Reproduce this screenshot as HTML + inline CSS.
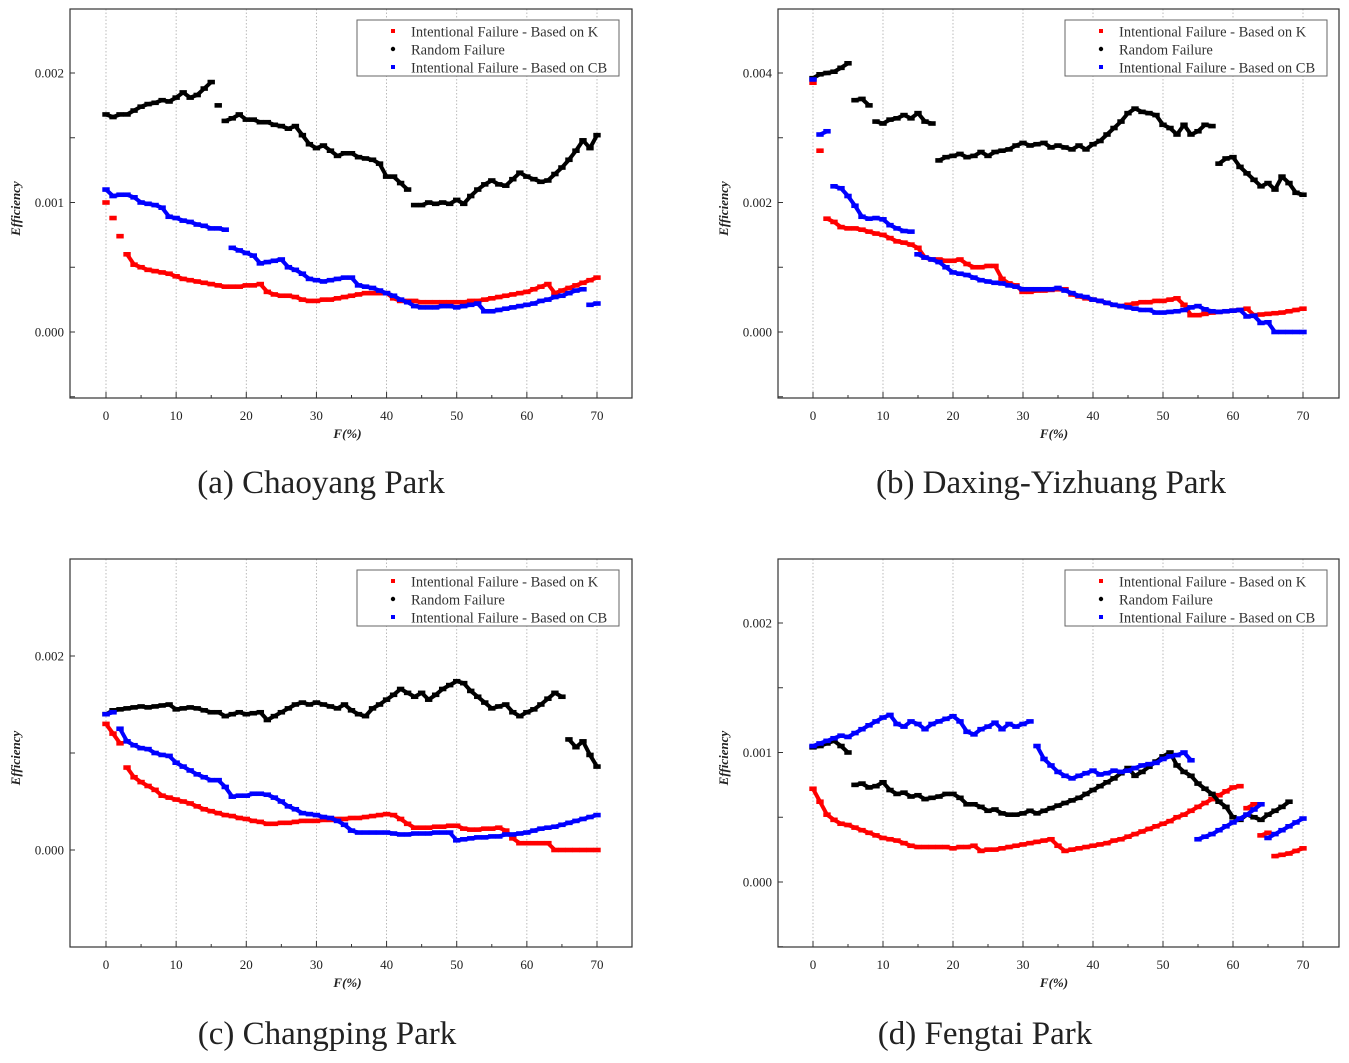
<!DOCTYPE html>
<html><head><meta charset="utf-8"><style>
html,body{margin:0;padding:0;background:#fff;}
svg text{font-family:"Liberation Serif",serif;}
</style></head><body>
<svg id="fig" width="1349" height="1058" xmlns="http://www.w3.org/2000/svg"></svg>
<script>
const xValues = Array.from({length:71},(_, i)=>i);
const ticksX = [0,10,20,30,40,50,60,70];
const legendLabels = ["Intentional Failure - Based on K","Random Failure","Intentional Failure - Based on CB"];
const captions = ["(a) Chaoyang Park","(b) Daxing-Yizhuang Park","(c) Changping Park","(d) Fengtai Park"];
// values in units of 0.001
const aK=[1.00,0.88,0.74,0.60,0.52,0.50,0.48,0.47,0.46,0.45,0.43,0.41,0.40,0.39,0.38,0.37,0.36,0.35,0.35,0.35,0.36,0.36,0.37,0.31,0.29,0.28,0.28,0.27,0.25,0.24,0.24,0.25,0.25,0.26,0.27,0.28,0.29,0.30,0.30,0.30,0.30,0.26,0.24,0.24,0.24,0.23,0.23,0.23,0.23,0.23,0.23,0.23,0.24,0.24,0.25,0.26,0.27,0.28,0.29,0.30,0.31,0.33,0.35,0.37,0.30,0.32,0.34,0.36,0.38,0.40,0.42];
const aR=[1.68,1.66,1.68,1.68,1.71,1.74,1.76,1.77,1.79,1.78,1.81,1.85,1.81,1.83,1.88,1.93,1.75,1.63,1.65,1.68,1.64,1.64,1.62,1.62,1.60,1.59,1.57,1.59,1.52,1.45,1.42,1.44,1.40,1.36,1.38,1.38,1.35,1.34,1.33,1.30,1.20,1.20,1.15,1.10,0.98,0.98,1.00,0.99,1.00,0.99,1.02,0.99,1.05,1.10,1.14,1.17,1.14,1.13,1.18,1.23,1.20,1.18,1.16,1.17,1.22,1.27,1.33,1.40,1.48,1.42,1.52];
const aCB=[1.10,1.05,1.06,1.06,1.04,1.00,0.99,0.98,0.96,0.89,0.88,0.86,0.85,0.83,0.82,0.80,0.80,0.79,0.65,0.63,0.61,0.59,0.53,0.54,0.55,0.56,0.50,0.48,0.45,0.41,0.40,0.39,0.40,0.41,0.42,0.42,0.36,0.35,0.34,0.32,0.30,0.28,0.25,0.23,0.20,0.19,0.19,0.19,0.20,0.20,0.19,0.20,0.21,0.22,0.16,0.16,0.17,0.18,0.19,0.20,0.21,0.22,0.24,0.25,0.27,0.28,0.30,0.32,0.33,0.21,0.22];
const bK=[3.85,2.80,1.75,1.70,1.62,1.60,1.60,1.58,1.55,1.52,1.50,1.45,1.40,1.38,1.35,1.30,1.15,1.12,1.12,1.10,1.10,1.12,1.05,1.00,1.00,1.02,1.02,0.82,0.75,0.72,0.62,0.62,0.64,0.64,0.65,0.66,0.66,0.58,0.55,0.52,0.50,0.48,0.45,0.42,0.40,0.42,0.44,0.46,0.46,0.48,0.48,0.50,0.52,0.42,0.26,0.26,0.28,0.30,0.31,0.32,0.33,0.34,0.36,0.26,0.27,0.28,0.29,0.30,0.32,0.34,0.36];
const bR=[3.92,3.98,4.00,4.02,4.08,4.15,3.58,3.60,3.50,3.25,3.22,3.28,3.30,3.35,3.30,3.38,3.25,3.22,2.65,2.70,2.72,2.75,2.70,2.72,2.78,2.72,2.78,2.80,2.82,2.88,2.92,2.88,2.90,2.92,2.85,2.88,2.85,2.82,2.88,2.82,2.90,2.95,3.05,3.15,3.25,3.38,3.45,3.40,3.38,3.35,3.20,3.15,3.05,3.20,3.05,3.10,3.20,3.18,2.60,2.68,2.70,2.55,2.45,2.35,2.25,2.30,2.20,2.40,2.30,2.15,2.12];
const bCB=[3.90,3.05,3.10,2.25,2.22,2.10,1.95,1.78,1.75,1.76,1.74,1.65,1.60,1.56,1.55,1.20,1.15,1.12,1.08,1.00,0.92,0.90,0.88,0.84,0.80,0.78,0.76,0.75,0.72,0.70,0.66,0.66,0.66,0.66,0.66,0.68,0.64,0.60,0.56,0.54,0.50,0.48,0.45,0.42,0.40,0.38,0.36,0.34,0.34,0.30,0.30,0.31,0.32,0.34,0.38,0.40,0.35,0.32,0.31,0.32,0.33,0.34,0.24,0.25,0.14,0.15,0.00,0.00,0.00,0.00,0.00];
const cK=[1.30,1.20,1.10,0.85,0.75,0.70,0.66,0.62,0.56,0.54,0.52,0.50,0.48,0.45,0.42,0.40,0.38,0.36,0.35,0.33,0.32,0.30,0.29,0.27,0.27,0.28,0.28,0.29,0.30,0.30,0.30,0.31,0.31,0.32,0.32,0.33,0.33,0.34,0.35,0.36,0.37,0.36,0.32,0.27,0.23,0.23,0.23,0.24,0.24,0.25,0.25,0.22,0.21,0.21,0.22,0.22,0.23,0.20,0.12,0.07,0.07,0.07,0.07,0.07,0.00,0.00,0.00,0.00,0.00,0.00,0.00];
const cR=[1.40,1.44,1.45,1.46,1.47,1.48,1.47,1.48,1.49,1.50,1.45,1.46,1.47,1.46,1.44,1.42,1.42,1.38,1.40,1.42,1.40,1.41,1.42,1.34,1.38,1.42,1.46,1.50,1.52,1.50,1.52,1.50,1.48,1.46,1.50,1.44,1.40,1.38,1.46,1.50,1.55,1.60,1.66,1.62,1.58,1.62,1.55,1.60,1.66,1.70,1.74,1.72,1.64,1.58,1.52,1.46,1.48,1.50,1.42,1.38,1.42,1.45,1.50,1.56,1.62,1.58,1.14,1.06,1.12,0.98,0.86];
const cCB=[1.40,1.42,1.25,1.12,1.08,1.05,1.04,1.00,0.98,0.97,0.90,0.86,0.82,0.78,0.75,0.72,0.72,0.65,0.55,0.56,0.56,0.58,0.58,0.57,0.54,0.50,0.45,0.42,0.38,0.37,0.36,0.34,0.33,0.30,0.26,0.20,0.18,0.18,0.18,0.18,0.18,0.17,0.16,0.16,0.17,0.17,0.17,0.18,0.18,0.18,0.10,0.11,0.12,0.13,0.13,0.14,0.14,0.16,0.16,0.17,0.18,0.20,0.22,0.23,0.24,0.26,0.28,0.30,0.32,0.34,0.36];
const dK=[0.72,0.62,0.52,0.48,0.45,0.44,0.42,0.40,0.38,0.36,0.34,0.33,0.32,0.30,0.28,0.27,0.27,0.27,0.27,0.27,0.26,0.27,0.27,0.28,0.24,0.25,0.25,0.26,0.27,0.28,0.29,0.30,0.31,0.32,0.33,0.28,0.24,0.25,0.26,0.27,0.28,0.29,0.30,0.32,0.33,0.35,0.37,0.39,0.41,0.43,0.45,0.47,0.50,0.52,0.55,0.58,0.61,0.64,0.67,0.70,0.73,0.74,0.57,0.60,0.36,0.38,0.20,0.21,0.22,0.24,0.26];
const dR=[1.04,1.05,1.07,1.09,1.05,1.00,0.75,0.76,0.73,0.74,0.77,0.71,0.68,0.69,0.66,0.67,0.64,0.65,0.66,0.68,0.68,0.65,0.60,0.60,0.58,0.55,0.56,0.53,0.52,0.52,0.53,0.55,0.53,0.55,0.57,0.59,0.61,0.63,0.65,0.68,0.71,0.74,0.77,0.80,0.84,0.88,0.82,0.85,0.89,0.93,0.97,1.00,0.90,0.85,0.82,0.76,0.72,0.68,0.62,0.58,0.50,0.48,0.52,0.50,0.48,0.52,0.55,0.58,0.62,null,null];
const dCB=[1.05,1.07,1.09,1.11,1.13,1.12,1.15,1.18,1.21,1.24,1.27,1.29,1.22,1.20,1.24,1.22,1.18,1.22,1.24,1.26,1.28,1.24,1.16,1.14,1.18,1.20,1.23,1.18,1.22,1.20,1.22,1.24,1.05,0.95,0.90,0.85,0.82,0.80,0.82,0.84,0.86,0.83,0.84,0.86,0.85,0.86,0.88,0.90,0.91,0.92,0.95,0.97,0.98,1.00,0.94,0.33,0.35,0.37,0.40,0.43,0.46,0.49,0.52,0.56,0.60,0.34,0.37,0.40,0.43,0.46,0.49];
const yTicksA=[0,1,2], yTicksB=[0,2,4], yTicksC=[0,2], yTicksD=[0,1,2];

const NS="http://www.w3.org/2000/svg";
const svg=document.getElementById('fig');
function mk(tag,attrs,parent){const e=document.createElementNS(NS,tag);for(const k in attrs)e.setAttribute(k,attrs[k]);(parent||svg).appendChild(e);return e;}

const panels=[
 {id:'a',L:70,T:9,W:562,H:389,x0:106,x70:597,yPx:[332,129.5],minor:0.5,yt:yTicksA,series:[aK,aR,aCB],cap:[321,493]},
 {id:'b',L:778,T:9,W:561,H:389,x0:813,x70:1303,yPx:[332,64.75],minor:1,yt:yTicksB,series:[bK,bR,bCB],cap:[1051,493]},
 {id:'c',L:70,T:559,W:562,H:388,x0:106,x70:597,yPx:[850,97],minor:1,yt:yTicksC,series:[cK,cR,cCB],cap:[327,1044]},
 {id:'d',L:778,T:559,W:561,H:388,x0:813,x70:1303,yPx:[882,129.5],minor:0.5,yt:yTicksD,series:[dK,dR,dCB],cap:[985,1044]}
];
const colors=['#ff0000','#000000','#0000ff'];
const seriesNames=['series-based-on-k','series-random-failure','series-based-on-cb'];

panels.forEach((p,pi)=>{
 const g=mk('g',{});
 
 
 const xs=v=>p.x0+(p.x70-p.x0)*v/70;
 const ys=v=>p.yPx[0]-p.yPx[1]*v;
 for(let v=0;v<=70;v+=10){const l=mk('line',{x1:xs(v),x2:xs(v),y1:p.T,y2:p.T+p.H,stroke:'#aaa','stroke-width':0.8,'stroke-dasharray':'1.5,2'},g);
  }
 const box=mk('rect',{x:p.L,y:p.T,width:p.W,height:p.H,fill:'none',stroke:'#333','stroke-width':1.2},g);
 
 const B=p.T+p.H;
 for(let v=0;v<=70;v+=5){mk('line',{x1:xs(v),x2:xs(v),y1:B,y2:B-(v%10?3:6),stroke:'#333','stroke-width':1},g);}
 ticksX.forEach(v=>{const t=mk('text',{x:xs(v),y:B+22,'text-anchor':'middle','font-size':13,fill:'#222'},g);t.textContent=v;
  });
 const vmin=(p.yPx[0]-B)/p.yPx[1], vmax=(p.yPx[0]-p.T)/p.yPx[1];
 for(let v=Math.ceil(vmin/p.minor)*p.minor;v<=vmax;v+=p.minor){mk('line',{x1:p.L,x2:p.L+5,y1:ys(v),y2:ys(v),stroke:'#333','stroke-width':1},g);}
 p.yt.forEach(v=>{const t=mk('text',{x:p.L-6,y:ys(v)+4.5,'text-anchor':'end','font-size':13,fill:'#222'},g);t.textContent=(v/1000).toFixed(3);
  });
 const yt=mk('text',{x:0,y:0,transform:`translate(${p.L-50},${p.T+p.H/2+5}) rotate(-90)`,'text-anchor':'middle','font-size':13,'font-style':'italic','font-weight':'bold',fill:'#222'},g);
 yt.textContent='Efficiency';
 const xt=mk('text',{x:(p.x0+p.x70)/2-4,y:B+40,'text-anchor':'middle','font-size':13,'font-style':'italic','font-weight':'bold',fill:'#222'},g);
 xt.textContent='F(%)';
 p.series.forEach((arr,si)=>{
  const sg=mk('g',{fill:colors[si]},g);
  
  arr.forEach((v,i)=>{ if(v===null)return;
   const x=xs(xValues[i]), y=ys(v);
   const r=mk('rect',{x:x-3.7,y:y-2.3,width:7.4,height:4.6},sg);
   
   const nv=arr[i+1];
   if(nv!==undefined&&nv!==null){const y2=ys(nv); if(Math.abs(y2-y)<14){const c=mk('line',{x1:x,y1:y,x2:xs(xValues[i+1]),y2:y2,stroke:colors[si],'stroke-width':4},sg);
     }}
  });
 });
 const lx=p.L+287, ly=p.T+11;
 const lg=mk('g',{},g);
 mk('rect',{x:lx,y:ly,width:262,height:56,fill:'#fff',stroke:'#666','stroke-width':1},lg);
 legendLabels.forEach((s,k)=>{
  const e=mk('g',{},lg);
  if(k===1) mk('circle',{cx:lx+36,cy:ly+12+18*k-1,r:2.2,fill:colors[k]},e);
  else mk('rect',{x:lx+34,y:ly+10+18*k-1,width:4,height:4,fill:colors[k]},e);
  const t=mk('text',{x:lx+54,y:ly+16.5+18*k,'font-size':14.5,fill:'#333'},e);t.textContent=s;
 });
 const cp=mk('text',{x:p.cap[0],y:p.cap[1],'text-anchor':'middle','font-size':33,fill:'#222'},svg);
 cp.textContent=captions[pi];
});
</script>
</body></html>
